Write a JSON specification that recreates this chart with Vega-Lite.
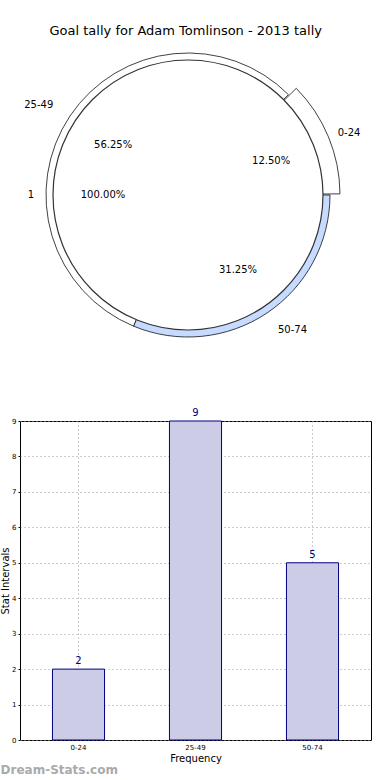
{
  "$schema": "https://vega.github.io/schema/vega-lite/v6.json",
  "padding": {"left": 0, "top": 25, "right": 0, "bottom": 0},
  "background": "white",
  "config": {"view": {"stroke": null}, "font": "DejaVu Sans"},
  "title": {"text": "Goal tally for Adam Tomlinson - 2013 tally", "fontSize": 13, "fontWeight": "normal", "font": "DejaVu Sans", "color": "#000", "anchor": "middle", "offset": 4},
  "datasets": {
    "outer": [
      {"interval": "0-24", "goals": 2, "pct": 0.125},
      {"interval": "25-49", "goals": 9, "pct": 0.5625},
      {"interval": "50-74", "goals": 5, "pct": 0.3125}
    ],
    "inner": [
      {"group": "1", "goals": 16, "pct": 1.0}
    ]
  },
  "spacing": 59,
  "vconcat": [
    {
      "width": 336,
      "height": 306,
      "view": {"stroke": null},
      "layer": [
        {
          "data": {"name": "outer"},
          "mark": {"type": "arc", "radius": 142, "stroke": "#111", "strokeWidth": 0.8},
          "encoding": {
            "theta": {"field": "goals", "type": "quantitative", "stack": true, "scale": {"domain": [0, 16], "range": [1.5708, -4.7124]}},
            "order": {"field": "interval", "type": "nominal", "sort": "ascending"},
            "fill": {"field": "interval", "type": "nominal", "scale": {"domain": ["0-24", "25-49", "50-74"], "range": ["#ffffff", "#ffffff", "#c6dbff"]}, "legend": null},
            "opacity": {"condition": {"test": "datum.interval === '0-24'", "value": 0}, "value": 1}
          }
        },
        {
          "data": {"name": "outer"},
          "mark": {"type": "arc", "radius": 152, "stroke": "#111", "strokeWidth": 0.8, "padAngle": 0.015},
          "encoding": {
            "theta": {"field": "goals", "type": "quantitative", "stack": true, "scale": {"domain": [0, 16], "range": [1.5708, -4.7124]}},
            "order": {"field": "interval", "type": "nominal", "sort": "ascending"},
            "fill": {"field": "interval", "type": "nominal", "legend": null},
            "opacity": {"condition": {"test": "datum.interval === '0-24'", "value": 1}, "value": 0}
          }
        },
        {
          "data": {"name": "inner"},
          "mark": {"type": "arc", "radius": 135, "fill": "#ffffff", "stroke": "#333", "strokeWidth": 1.2},
          "encoding": {
            "theta": {"field": "goals", "type": "quantitative", "stack": true, "scale": {"domain": [0, 16], "range": [1.5708, -4.7124]}}
          }
        },
        {
          "data": {"name": "outer"},
          "mark": {"type": "text", "radius": 162, "align": "left", "baseline": "middle", "fontSize": 10, "color": "#000"},
          "encoding": {
            "theta": {"field": "goals", "type": "quantitative", "stack": true, "scale": {"domain": [0, 16], "range": [1.5708, -4.7124]}},
            "order": {"field": "interval", "type": "nominal", "sort": "ascending"},
            "text": {"field": "interval", "type": "nominal"},
            "opacity": {"condition": {"test": "datum.interval === '25-49'", "value": 0}, "value": 1}
          }
        },
        {
          "data": {"name": "outer"},
          "mark": {"type": "text", "radius": 162, "align": "right", "baseline": "middle", "fontSize": 10, "color": "#000"},
          "encoding": {
            "theta": {"field": "goals", "type": "quantitative", "stack": true, "scale": {"domain": [0, 16], "range": [1.5708, -4.7124]}},
            "order": {"field": "interval", "type": "nominal", "sort": "ascending"},
            "text": {"field": "interval", "type": "nominal"},
            "opacity": {"condition": {"test": "datum.interval === '25-49'", "value": 1}, "value": 0}
          }
        },
        {
          "data": {"name": "outer"},
          "mark": {"type": "text", "radius": 90, "align": "center", "baseline": "middle", "fontSize": 10, "color": "#000"},
          "encoding": {
            "theta": {"field": "goals", "type": "quantitative", "stack": true, "scale": {"domain": [0, 16], "range": [1.5708, -4.7124]}},
            "order": {"field": "interval", "type": "nominal", "sort": "ascending"},
            "text": {"field": "pct", "type": "quantitative", "format": ".2%"}
          }
        },
        {
          "data": {"name": "inner"},
          "mark": {"type": "text", "radius": 154, "align": "right", "baseline": "middle", "fontSize": 10, "color": "#000"},
          "encoding": {
            "theta": {"field": "goals", "type": "quantitative", "stack": true, "scale": {"domain": [0, 16], "range": [1.5708, -4.7124]}},
            "text": {"field": "group", "type": "nominal"}
          }
        },
        {
          "data": {"name": "inner"},
          "mark": {"type": "text", "radius": 85, "align": "center", "baseline": "middle", "fontSize": 10, "color": "#000"},
          "encoding": {
            "theta": {"field": "goals", "type": "quantitative", "stack": true, "scale": {"domain": [0, 16], "range": [1.5708, -4.7124]}},
            "text": {"field": "pct", "type": "quantitative", "format": ".2%"}
          }
        }
      ]
    },
    {
      "data": {"name": "outer"},
      "width": 351,
      "height": 319,
      "view": {"stroke": "#000", "strokeWidth": 1},
      "title": {"text": "Dream-Stats.com", "orient": "bottom", "anchor": "start", "frame": "bounds", "offset": 2, "fontSize": 12, "fontWeight": "bold", "color": "#aaaaaa", "font": "DejaVu Sans"},
      "encoding": {
        "x": {"field": "interval", "type": "nominal", "sort": ["0-24", "25-49", "50-74"],
              "scale": {"paddingInner": 0.555, "paddingOuter": 0.2775},
              "axis": {"title": "Frequency", "titleFontSize": 10, "titleFontWeight": "normal", "titleColor": "#000", "titlePadding": 3,
                       "labelAngle": 0, "labelFontSize": 7, "labelColor": "#000", "labelPadding": 3, "ticks": false, "domain": false,
                       "grid": true, "gridDash": [1, 3], "gridColor": "#999", "gridWidth": 1}},
        "y": {"field": "goals", "type": "quantitative",
              "scale": {"domain": [0, 9], "nice": false},
              "axis": {"title": "Stat Intervals", "titleFontSize": 10, "titleFontWeight": "normal", "titleColor": "#000", "titlePadding": 1,
                       "values": [0, 1, 2, 3, 4, 5, 6, 7, 8, 9], "labelFontSize": 7, "labelColor": "#000", "labelPadding": 2, "tickSize": 2, "tickColor": "#000", "domain": false,
                       "grid": true, "gridDash": [1, 3], "gridColor": "#999", "gridWidth": 1}}
      },
      "layer": [
        {"mark": {"type": "bar", "fill": "#cccce6", "stroke": "#000080", "strokeWidth": 1}},
        {"mark": {"type": "text", "baseline": "bottom", "dy": -3, "fontSize": 10, "color": "#000080"},
         "encoding": {"text": {"field": "goals", "type": "quantitative"}}}
      ]
    }
  ]
}
